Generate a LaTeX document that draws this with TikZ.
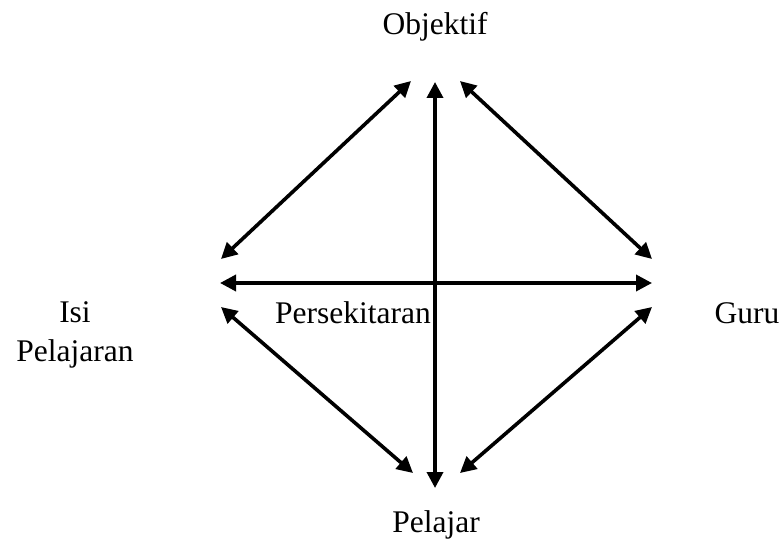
\documentclass[tikz,border=0pt]{standalone}
\usepackage{fontspec}
\setmainfont{Liberation Serif}
\usetikzlibrary{arrows.meta}
\begin{document}
\begin{tikzpicture}[x=1pt,y=-1pt,
  lbl/.style={font=\fontsize{31.5}{36}\selectfont, inner sep=0pt, anchor=base},
  link/.style={line width=3.6pt, {Triangle[length=16pt,width=16pt]}-{Triangle[length=16pt,width=16pt]}}]
\useasboundingbox (0,0) rectangle (783,540);
% labels
\node[lbl] (obj) at (435,35) {Objektif};
\node[lbl] (isi) at (75,322) {Isi};
\node[lbl] (pel) at (75,361) {Pelajaran};
\node[lbl, anchor=base east] (pers) at (431,323) {Persekitaran};
\node[lbl] (guru) at (747,323) {Guru};
\node[lbl] (plj) at (436,532) {Pelajar};
% end points
\coordinate (vt) at (435,82);
\coordinate (vb) at (435,488);
\coordinate (hl) at (220,283);
\coordinate (hr) at (652,283);
\coordinate (tl1) at (221,259);
\coordinate (tl2) at (411,81);
\coordinate (tr1) at (460,81);
\coordinate (tr2) at (652,259);
\coordinate (bl1) at (221,307);
\coordinate (bl2) at (413,473);
\coordinate (br1) at (652,307);
\coordinate (br2) at (460,473);
% arrows
\draw[link] (vb) -- (vt);
\draw[link] (hl) -- (hr);
\draw[link] (tl1) -- (tl2);
\draw[link] (tr1) -- (tr2);
\draw[link] (bl1) -- (bl2);
\draw[link] (br1) -- (br2);
\end{tikzpicture}
\end{document}
